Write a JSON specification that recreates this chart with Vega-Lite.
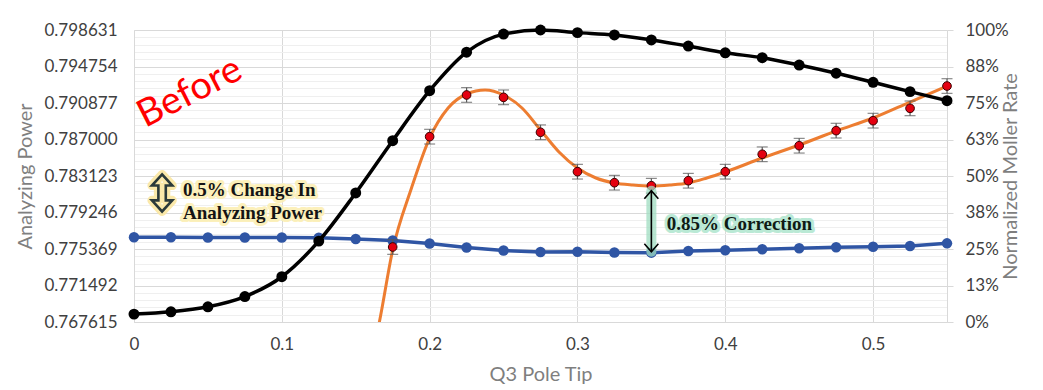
{
  "$schema": "https://vega.github.io/schema/vega-lite/v6.json",
  "width": 813,
  "height": 292,
  "autosize": {"type": "none"},
  "padding": {"left": 134, "top": 30, "right": 96, "bottom": 68},
  "background": "white",
  "config": {
    "view": {"stroke": null},
    "axis": {
      "labelFont": "Lato", "titleFont": "Lato", "labelFontSize": 17, "titleFontSize": 20,
      "labelColor": "#404040", "titleColor": "#7f7f7f", "titleFontWeight": "normal",
      "domainColor": "#d9d9d9", "gridColor": "#d9d9d9", "tickColor": "#d9d9d9", "labelFlush": false
    },
    "axisLeft": {"labelOverlap": false}
  },
  "datasets": {
    "moller": [
      {"x": 0, "rate": 0.027}, {"x": 0.025, "rate": 0.035}, {"x": 0.05, "rate": 0.052}, {"x": 0.075, "rate": 0.087},
      {"x": 0.1, "rate": 0.155}, {"x": 0.125, "rate": 0.277}, {"x": 0.15, "rate": 0.442}, {"x": 0.175, "rate": 0.621},
      {"x": 0.2, "rate": 0.792}, {"x": 0.225, "rate": 0.924}, {"x": 0.25, "rate": 0.986}, {"x": 0.275, "rate": 1.0},
      {"x": 0.3, "rate": 0.991}, {"x": 0.325, "rate": 0.983}, {"x": 0.35, "rate": 0.966}, {"x": 0.375, "rate": 0.945},
      {"x": 0.4, "rate": 0.922}, {"x": 0.425, "rate": 0.905}, {"x": 0.45, "rate": 0.88}, {"x": 0.475, "rate": 0.852},
      {"x": 0.5, "rate": 0.821}, {"x": 0.525, "rate": 0.789}, {"x": 0.55, "rate": 0.758}
    ],
    "ap": [
      {"x": 0.175, "ap": 0.77558, "err": 0.00078}, {"x": 0.2, "ap": 0.7873, "err": 0.00078},
      {"x": 0.225, "ap": 0.79173, "err": 0.00078}, {"x": 0.25, "ap": 0.79148, "err": 0.00078},
      {"x": 0.275, "ap": 0.78777, "err": 0.00078}, {"x": 0.3, "ap": 0.78358, "err": 0.00078},
      {"x": 0.325, "ap": 0.78241, "err": 0.00078}, {"x": 0.35, "ap": 0.78209, "err": 0.00078},
      {"x": 0.375, "ap": 0.78262, "err": 0.00078}, {"x": 0.4, "ap": 0.78358, "err": 0.00078},
      {"x": 0.425, "ap": 0.78543, "err": 0.00078}, {"x": 0.45, "ap": 0.78634, "err": 0.00078},
      {"x": 0.475, "ap": 0.78794, "err": 0.00078}, {"x": 0.5, "ap": 0.789, "err": 0.00078},
      {"x": 0.525, "ap": 0.79031, "err": 0.00078}, {"x": 0.55, "ap": 0.79268, "err": 0.00078}
    ],
    "fit": [
      {"x": 0.158, "fit": 0.761879}, {"x": 0.166, "fit": 0.767615}, {"x": 0.175, "fit": 0.775263},
      {"x": 0.1875, "fit": 0.781742}, {"x": 0.2, "fit": 0.787159}, {"x": 0.2125, "fit": 0.790346},
      {"x": 0.225, "fit": 0.791833}, {"x": 0.2375, "fit": 0.792258}, {"x": 0.25, "fit": 0.791727},
      {"x": 0.2625, "fit": 0.790346}, {"x": 0.275, "fit": 0.788009}, {"x": 0.2875, "fit": 0.785672},
      {"x": 0.3, "fit": 0.783973}, {"x": 0.3125, "fit": 0.78291}, {"x": 0.325, "fit": 0.782379},
      {"x": 0.3375, "fit": 0.782167}, {"x": 0.35, "fit": 0.782061}, {"x": 0.3625, "fit": 0.782167},
      {"x": 0.375, "fit": 0.782379}, {"x": 0.3875, "fit": 0.78291}, {"x": 0.4, "fit": 0.783548},
      {"x": 0.425, "fit": 0.785035}, {"x": 0.45, "fit": 0.786416}, {"x": 0.475, "fit": 0.787903},
      {"x": 0.5, "fit": 0.789284}, {"x": 0.525, "fit": 0.790983}, {"x": 0.55, "fit": 0.792683}
    ],
    "after": [
      {"x": 0, "ap2": 0.77661}, {"x": 0.025, "ap2": 0.77661}, {"x": 0.05, "ap2": 0.77659}, {"x": 0.075, "ap2": 0.77659},
      {"x": 0.1, "ap2": 0.77659}, {"x": 0.125, "ap2": 0.77657}, {"x": 0.15, "ap2": 0.77643}, {"x": 0.175, "ap2": 0.77627},
      {"x": 0.2, "ap2": 0.77595}, {"x": 0.225, "ap2": 0.77553}, {"x": 0.25, "ap2": 0.77521}, {"x": 0.275, "ap2": 0.77505},
      {"x": 0.3, "ap2": 0.77508}, {"x": 0.325, "ap2": 0.775}, {"x": 0.35, "ap2": 0.77498}, {"x": 0.375, "ap2": 0.77516},
      {"x": 0.4, "ap2": 0.77523}, {"x": 0.425, "ap2": 0.77534}, {"x": 0.45, "ap2": 0.77544}, {"x": 0.475, "ap2": 0.77555},
      {"x": 0.5, "ap2": 0.77561}, {"x": 0.525, "ap2": 0.77569}, {"x": 0.55, "ap2": 0.77597}
    ]
  },
  "layer": [
    {
      "layer": [
        {
          "data": {"name": "fit"},
          "mark": {"type": "line", "color": "#ed7d31", "strokeWidth": 3, "interpolate": "monotone", "clip": true},
          "encoding": {
            "x": {"field": "x", "type": "quantitative", "scale": {"domain": [0, 0.55], "nice": false}, "title": "Q3 Pole Tip",
              "axis": {"values": [0, 0.1, 0.2, 0.3, 0.4, 0.5], "format": "~g", "grid": true, "ticks": false,
                "labelPadding": 14, "titlePadding": 12}},
            "y": {"field": "fit", "type": "quantitative", "scale": {"domain": [0.767615, 0.798631], "nice": false, "zero": false}, "title": "Analyzing Power",
              "axis": {"orient": "left", "values": [0.767615, 0.771492, 0.775369, 0.779246, 0.783123, 0.787, 0.790877, 0.794754, 0.798631],
                "format": ".6f", "grid": false, "ticks": false, "labelPadding": 17, "labelOverlap": false, "titlePadding": 8}}
          }
        },
        {
          "data": {"name": "after"},
          "mark": {"type": "line", "color": "#2f55a4", "strokeWidth": 3.5, "point": {"filled": true, "size": 110, "color": "#2f55a4"}},
          "encoding": {
            "x": {"field": "x", "type": "quantitative", "scale": {"domain": [0, 0.55], "nice": false}, "title": "Q3 Pole Tip"},
            "y": {"field": "ap2", "type": "quantitative", "scale": {"domain": [0.767615, 0.798631], "nice": false, "zero": false}, "title": "Analyzing Power",
              "axis": {"orient": "left", "values": [0.767615, 0.771492, 0.775369, 0.779246, 0.783123, 0.787, 0.790877, 0.794754, 0.798631],
                "format": ".6f", "grid": false, "ticks": false, "labelPadding": 17, "labelOverlap": false, "titlePadding": 8}}
          }
        },
        {
          "data": {"name": "ap"},
          "mark": {"type": "errorbar", "color": "#595959", "thickness": 1.2, "ticks": {"size": 11, "color": "#595959", "thickness": 1.2}},
          "encoding": {
            "x": {"field": "x", "type": "quantitative", "scale": {"domain": [0, 0.55], "nice": false}, "title": "Q3 Pole Tip"},
            "y": {"field": "ap", "type": "quantitative", "scale": {"domain": [0.767615, 0.798631], "nice": false, "zero": false}, "title": "Analyzing Power",
              "axis": {"orient": "left", "values": [0.767615, 0.771492, 0.775369, 0.779246, 0.783123, 0.787, 0.790877, 0.794754, 0.798631],
                "format": ".6f", "grid": false, "ticks": false, "labelPadding": 17, "labelOverlap": false, "titlePadding": 8}},
            "yError": {"field": "err"}
          }
        },
        {
          "data": {"name": "ap"},
          "mark": {"type": "point", "filled": true, "fill": "#e4000f", "stroke": "#3a0000", "strokeWidth": 1, "size": 75, "opacity": 1},
          "encoding": {
            "x": {"field": "x", "type": "quantitative", "scale": {"domain": [0, 0.55], "nice": false}, "title": "Q3 Pole Tip"},
            "y": {"field": "ap", "type": "quantitative", "scale": {"domain": [0.767615, 0.798631], "nice": false, "zero": false}, "title": "Analyzing Power",
              "axis": {"orient": "left", "values": [0.767615, 0.771492, 0.775369, 0.779246, 0.783123, 0.787, 0.790877, 0.794754, 0.798631],
                "format": ".6f", "grid": false, "ticks": false, "labelPadding": 17, "labelOverlap": false, "titlePadding": 8}}
          }
        }
      ]
    },
    {
      "layer": [
        {
          "data": {"name": "moller"},
          "mark": {"type": "line", "color": "#000000", "strokeWidth": 3.5, "interpolate": "monotone", "point": {"filled": true, "size": 120, "color": "#000000"}},
          "encoding": {
            "x": {"field": "x", "type": "quantitative", "scale": {"domain": [0, 0.55], "nice": false}, "title": "Q3 Pole Tip"},
            "y": {"field": "rate", "type": "quantitative", "scale": {"domain": [0, 1], "nice": false}, "title": "Normalized Moller Rate",
              "axis": {"orient": "right",
                "values": [0, 0.025, 0.05, 0.075, 0.1, 0.125, 0.15, 0.175, 0.2, 0.225, 0.25, 0.275, 0.3, 0.325, 0.35, 0.375, 0.4, 0.425, 0.45, 0.475, 0.5, 0.525, 0.55, 0.575, 0.6, 0.625, 0.65, 0.675, 0.7, 0.725, 0.75, 0.775, 0.8, 0.825, 0.85, 0.875, 0.9, 0.925, 0.95, 0.975, 1],
                "format": ".0%", "labelOverlap": false,
                "labelExpr": "abs(datum.value*8 - round(datum.value*8)) < 0.0001 ? datum.label : ''",
                "grid": true,
                "gridColor": {"condition": {"test": "abs(datum.value*8 - round(datum.value*8)) < 0.0001", "value": "#d9d9d9"}, "value": "#efefef"},
                "ticks": true, "tickSize": 6,
                "tickOpacity": {"condition": {"test": "abs(datum.value*8 - round(datum.value*8)) < 0.0001", "value": 1}, "value": 0},
                "labelPadding": 12, "titleAngle": 270, "titlePadding": 12}}
          }
        }
      ]
    },
    {
      "layer": [
        {
          "data": {"values": [{"x": 0.35, "y": 0.78156, "y2": 0.77508}]},
          "mark": {"type": "rule", "color": "#9fdcc0", "strokeWidth": 10, "opacity": 0.75, "strokeCap": "round"},
          "encoding": {
            "x": {"field": "x", "type": "quantitative", "scale": {"domain": [0, 0.55], "nice": false}, "title": "Q3 Pole Tip"},
            "y": {"field": "y", "type": "quantitative", "scale": {"domain": [0.767615, 0.798631], "nice": false, "zero": false}, "axis": null},
            "y2": {"field": "y2"}
          }
        },
        {
          "data": {"values": [{"x": 0.35, "y": 0.78156, "y2": 0.77508}]},
          "mark": {"type": "rule", "color": "#000000", "strokeWidth": 1.6},
          "encoding": {
            "x": {"field": "x", "type": "quantitative", "scale": {"domain": [0, 0.55], "nice": false}, "title": "Q3 Pole Tip"},
            "y": {"field": "y", "type": "quantitative", "scale": {"domain": [0.767615, 0.798631], "nice": false, "zero": false}, "axis": null},
            "y2": {"field": "y2"}
          }
        },
        {
          "data": {"values": [{"x": 0.35, "y": 0.78156}]},
          "mark": {"type": "point", "shape": "M-1,1.15L0,0L1,1.15", "filled": false, "color": "#000000", "strokeWidth": 1.6, "size": 196, "opacity": 1},
          "encoding": {
            "x": {"field": "x", "type": "quantitative", "scale": {"domain": [0, 0.55], "nice": false}, "title": "Q3 Pole Tip"},
            "y": {"field": "y", "type": "quantitative", "scale": {"domain": [0.767615, 0.798631], "nice": false, "zero": false}, "axis": null}
          }
        },
        {
          "data": {"values": [{"x": 0.35, "y": 0.77508}]},
          "mark": {"type": "point", "shape": "M-1,-1.15L0,0L1,-1.15", "filled": false, "color": "#000000", "strokeWidth": 1.6, "size": 196, "opacity": 1},
          "encoding": {
            "x": {"field": "x", "type": "quantitative", "scale": {"domain": [0, 0.55], "nice": false}, "title": "Q3 Pole Tip"},
            "y": {"field": "y", "type": "quantitative", "scale": {"domain": [0.767615, 0.798631], "nice": false, "zero": false}, "axis": null}
          }
        },
        {
          "data": {"values": [{"x": 0.3604, "y": 0.77739, "t": "0.85% Correction"}]},
          "mark": {"type": "text", "align": "left", "baseline": "alphabetic", "font": "Liberation Serif", "fontWeight": "bold", "fontSize": 19,
            "color": "#a9e4cb", "stroke": "#a9e4cb", "strokeWidth": 6, "strokeJoin": "round", "opacity": 0.8},
          "encoding": {
            "x": {"field": "x", "type": "quantitative", "scale": {"domain": [0, 0.55], "nice": false}, "title": "Q3 Pole Tip"},
            "y": {"field": "y", "type": "quantitative", "scale": {"domain": [0.767615, 0.798631], "nice": false, "zero": false}, "axis": null},
            "text": {"field": "t"}
          }
        },
        {
          "data": {"values": [{"x": 0.3604, "y": 0.77739, "t": "0.85% Correction"}]},
          "mark": {"type": "text", "align": "left", "baseline": "alphabetic", "font": "Liberation Serif", "fontWeight": "bold", "fontSize": 19, "color": "#0f1a15"},
          "encoding": {
            "x": {"field": "x", "type": "quantitative", "scale": {"domain": [0, 0.55], "nice": false}, "title": "Q3 Pole Tip"},
            "y": {"field": "y", "type": "quantitative", "scale": {"domain": [0.767615, 0.798631], "nice": false, "zero": false}, "axis": null},
            "text": {"field": "t"}
          }
        },
        {
          "data": {"values": [{"x": 0.0332, "y": 0.781, "t": "0.5% Change In"}, {"x": 0.0332, "y": 0.77852, "t": "Analyzing Power"}]},
          "mark": {"type": "text", "align": "left", "baseline": "alphabetic", "font": "Liberation Serif", "fontWeight": "bold", "fontSize": 19,
            "color": "#fcefb4", "stroke": "#fcefb4", "strokeWidth": 6, "strokeJoin": "round", "opacity": 0.9},
          "encoding": {
            "x": {"field": "x", "type": "quantitative", "scale": {"domain": [0, 0.55], "nice": false}, "title": "Q3 Pole Tip"},
            "y": {"field": "y", "type": "quantitative", "scale": {"domain": [0.767615, 0.798631], "nice": false, "zero": false}, "axis": null},
            "text": {"field": "t"}
          }
        },
        {
          "data": {"values": [{"x": 0.0332, "y": 0.781, "t": "0.5% Change In"}, {"x": 0.0332, "y": 0.77852, "t": "Analyzing Power"}]},
          "mark": {"type": "text", "align": "left", "baseline": "alphabetic", "font": "Liberation Serif", "fontWeight": "bold", "fontSize": 19, "color": "#141414"},
          "encoding": {
            "x": {"field": "x", "type": "quantitative", "scale": {"domain": [0, 0.55], "nice": false}, "title": "Q3 Pole Tip"},
            "y": {"field": "y", "type": "quantitative", "scale": {"domain": [0.767615, 0.798631], "nice": false, "zero": false}, "axis": null},
            "text": {"field": "t"}
          }
        },
        {
          "data": {"values": [{"x": 0.019, "y": 0.78132}]},
          "mark": {"type": "point", "shape": "M0,-1L0.55,-0.4L0.2,-0.4L0.2,0.4L0.55,0.4L0,1L-0.55,0.4L-0.2,0.4L-0.2,-0.4L-0.55,-0.4Z",
            "filled": false, "color": "#fbe7a1", "strokeWidth": 9, "strokeJoin": "round", "size": 1369, "opacity": 0.9},
          "encoding": {
            "x": {"field": "x", "type": "quantitative", "scale": {"domain": [0, 0.55], "nice": false}, "title": "Q3 Pole Tip"},
            "y": {"field": "y", "type": "quantitative", "scale": {"domain": [0.767615, 0.798631], "nice": false, "zero": false}, "axis": null}
          }
        },
        {
          "data": {"values": [{"x": 0.019, "y": 0.78132}]},
          "mark": {"type": "point", "shape": "M0,-1L0.55,-0.4L0.2,-0.4L0.2,0.4L0.55,0.4L0,1L-0.55,0.4L-0.2,0.4L-0.2,-0.4L-0.55,-0.4Z",
            "filled": false, "color": "#2b3a3a", "strokeWidth": 2.6, "strokeJoin": "miter", "size": 1369, "opacity": 1},
          "encoding": {
            "x": {"field": "x", "type": "quantitative", "scale": {"domain": [0, 0.55], "nice": false}, "title": "Q3 Pole Tip"},
            "y": {"field": "y", "type": "quantitative", "scale": {"domain": [0.767615, 0.798631], "nice": false, "zero": false}, "axis": null}
          }
        },
        {
          "data": {"values": [{"x": 0.0379, "y": 0.79194, "t": "Before"}]},
          "mark": {"type": "text", "align": "center", "baseline": "middle", "font": "Lato", "fontSize": 38, "angle": -27, "color": "#ff0000"},
          "encoding": {
            "x": {"field": "x", "type": "quantitative", "scale": {"domain": [0, 0.55], "nice": false}, "title": "Q3 Pole Tip"},
            "y": {"field": "y", "type": "quantitative", "scale": {"domain": [0.767615, 0.798631], "nice": false, "zero": false}, "axis": null},
            "text": {"field": "t"}
          }
        }
      ]
    }
  ],
  "resolve": {"scale": {"y": "independent"}}
}
